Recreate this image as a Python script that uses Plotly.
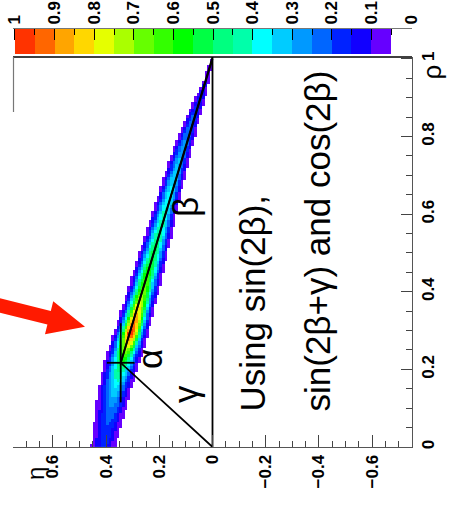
import numpy as np
import plotly.graph_objects as go

# ---------------- data ----------------
# colour bins of the CL value (0.05 wide), index 0 = [0,0.05) ... 19 = [0.95,1]
bin_colors = ["#FFFFFF", "#6600FF", "#1100FF", "#0022FF", "#0066FF", "#0099FF",
              "#00CCFF", "#00FFFF", "#00FFAA", "#00FF80", "#00FF44", "#00FF00",
              "#33FF00", "#66FF00", "#AAFF00", "#E5FF00", "#FFD700", "#FFA500",
              "#FF6600", "#FF3300"]
cbar_tick_vals = [0, 0.1, 0.2, 0.3, 0.4, 0.5, 0.6, 0.7, 0.8, 0.9, 1.0]
cbar_tick_text = ["0", "0.1", "0.2", "0.3", "0.4", "0.5", "0.6", "0.7", "0.8", "0.9", "1"]

# probability band profile (per rho): centre in eta, half width of the 0.05 contour, peak CL
band_rho      = [0.00, 0.05, 0.10, 0.15, 0.20, 0.25, 0.29, 0.33, 0.40, 0.48, 0.58, 0.68, 0.77, 0.86, 0.94, 1.00]
band_center   = [0.410, 0.396, 0.381, 0.367, 0.347, 0.326, 0.308, 0.291, 0.262, 0.230, 0.190, 0.150, 0.112, 0.068, 0.025, 0.002]
band_halfw    = [0.046, 0.051, 0.057, 0.062, 0.066, 0.068, 0.066, 0.063, 0.060, 0.056, 0.048, 0.041, 0.035, 0.025, 0.013, 0.004]
band_peak     = [0.16, 0.19, 0.25, 0.35, 0.47, 0.70, 1.00, 0.90, 0.68, 0.54, 0.43, 0.35, 0.28, 0.20, 0.12, 0.06]

# unitarity triangle apex and its errors
apex_rho, apex_eta = 0.217, 0.345
err_rho, err_eta = 0.102, 0.052

# ---------------- figure geometry (pixels) ----------------
W, H = 459, 506
L, R, T, B = 13, 47, 29, 59
PW, PH = W - L - R, H - T - B


def px(x):
    return (x - L) / PW


def py(y):
    return (H - B - y) / PH


main_top = 57
cbar_top, cbar_bot = 29, 54

# ---------------- likelihood surface ----------------
eta_c = np.arange(-0.045, 0.60, 0.01)
rho_c = np.arange(0.004, 1.0, 0.008)
A = np.interp(rho_c, band_rho, band_peak)
C = np.interp(rho_c, band_rho, band_center)
Wd = np.interp(rho_c, band_rho, band_halfw)
S = Wd / np.sqrt(2 * np.log(A / 0.05))
Z = A[:, None] * np.exp(-0.5 * ((eta_c[None, :] - C[:, None]) / S[:, None]) ** 2)
Z = np.where(Z >= 0.05, Z, np.nan)

cscale = []
for i, col in enumerate(bin_colors):
    cscale.append([i / 20, col])
    cscale.append([(i + 1) / 20, col])

fig = go.Figure()
fig.add_trace(go.Heatmap(x=eta_c, y=rho_c, z=Z, colorscale=cscale, zmin=0, zmax=1,
                         zsmooth=False, showscale=False, hoverinfo="skip"))

# colour bar drawn as its own heatmap
cb_x = [0.025 + 0.05 * i for i in range(1, 20)]
fig.add_trace(go.Heatmap(x=cb_x, y=[0.5], z=[cb_x], colorscale=cscale, zmin=0, zmax=1,
                         zsmooth=False, showscale=False, xaxis="x2", yaxis="y2",
                         hoverinfo="skip"))

# triangle
fig.add_trace(go.Scatter(x=[0, 0, apex_eta, 0], y=[0, 1.005, apex_rho, 0], mode="lines",
                         line=dict(color="black", width=1.8), hoverinfo="skip"))
fig.add_trace(go.Scatter(x=[0, apex_eta], y=[1.0, apex_rho], mode="lines",
                         line=dict(color="black", width=1.8), hoverinfo="skip"))
# apex with errors
fig.add_trace(go.Scatter(x=[apex_eta], y=[apex_rho], mode="markers",
                         marker=dict(size=1, color="black"),
                         error_x=dict(type="data", array=[err_eta], color="black", thickness=1.8, width=0),
                         error_y=dict(type="data", array=[err_rho], color="black", thickness=1.8, width=0),
                         hoverinfo="skip"))

tickfont = dict(family="Liberation Sans", size=17, color="black", weight="bold")
fig.update_layout(
    width=W, height=H, margin=dict(l=L, r=R, t=T, b=B, autoexpand=False),
    paper_bgcolor="white", plot_bgcolor="white", showlegend=False,
    xaxis=dict(range=[0.75, -0.75], domain=[0, 1], anchor="y", tickmode="linear", tick0=0, dtick=0.2,
               ticks="inside", ticklen=12, tickcolor="#444", tickwidth=1, tickangle=-90,
               tickfont=tickfont, showgrid=False, zeroline=False, showline=True,
               linecolor="#555", linewidth=1.2, automargin=False,
               minor=dict(dtick=0.05, tick0=0, ticks="inside", ticklen=6, tickcolor="#444")),
    yaxis=dict(range=[0, 1.005], domain=[0, py(main_top)], anchor="x", side="right",
               tickmode="linear", tick0=0, dtick=0.2, ticks="inside", ticklen=11,
               tickcolor="#444", tickangle=-90, tickfont=tickfont, showgrid=False,
               zeroline=False, showline=True, linecolor="#555", linewidth=1.2, automargin=False,
               minor=dict(dtick=0.05, tick0=0, ticks="inside", ticklen=6, tickcolor="#444")),
    xaxis2=dict(range=[1.005, -0.002], domain=[0, 1], anchor="y2", side="top",
                tickmode="array", tickvals=cbar_tick_vals, ticktext=cbar_tick_text,
                ticks="inside", ticklen=11, tickcolor="black", tickangle=-90, tickfont=tickfont,
                showgrid=False, zeroline=False, showline=True, linecolor="#777", linewidth=1,
                automargin=False,
                minor=dict(tickvals=[0.05 + 0.1 * i for i in range(10)], ticks="inside",
                           ticklen=6, tickcolor="black")),
    yaxis2=dict(range=[0, 1], domain=[py(cbar_bot), py(cbar_top)], anchor="x2", visible=False,
                automargin=False),
)

shapes = [
    dict(type="line", xref="paper", yref="paper", x0=px(13), x1=px(412), y0=py(57), y1=py(57),
         line=dict(color="black", width=1.5)),
    dict(type="line", xref="paper", yref="paper", x0=px(13.5), x1=px(13.5), y0=py(57), y1=py(112),
         line=dict(color="#777", width=1.2)),
]
# red arrow
tail = np.array([-2.0, 305.0])
tip = np.array([85.0, 326.7])
u = (tip - tail) / np.linalg.norm(tip - tail)
n = np.array([-u[1], u[0]])
base = tip - 37 * u
pts = [tail - 7 * n, base - 7 * n, base - 17 * n, tip, base + 17 * n, base + 7 * n, tail + 7 * n]
path = "M " + " L ".join(f"{px(p[0]):.5f},{py(p[1]):.5f}" for p in pts) + " Z"
shapes.append(dict(type="path", xref="paper", yref="paper", path=path,
                   fillcolor="#FF1A00", line=dict(width=0)))
fig.update_layout(shapes=shapes)

big = dict(family="Liberation Sans", size=35, color="black")
ann = [
    dict(text="Using sin(2β),", x=px(252), y=py(414), xanchor="center", yanchor="bottom"),
    dict(text="sin(2β+γ) and cos(2β)", x=px(317), y=py(414), xanchor="center", yanchor="bottom"),
    dict(text="α", x=px(149), y=py(359), xanchor="center", yanchor="middle"),
    dict(text="β", x=px(185), y=py(207), xanchor="center", yanchor="middle"),
    dict(text="γ", x=px(185), y=py(394), xanchor="center", yanchor="middle"),
]
for a in ann:
    fig.add_annotation(xref="paper", yref="paper", showarrow=False, textangle=-90, font=big, **a)
fig.add_annotation(text="ρ", xref="paper", yref="paper", x=px(448), y=py(63), showarrow=False,
                   textangle=-90, font=dict(family="Liberation Sans", size=26, color="black"))
fig.add_annotation(text="η", xref="paper", yref="paper", x=px(20), y=py(482), showarrow=False,
                   textangle=-90, font=dict(family="Liberation Sans", size=24, color="black"))

fig.write_html("out.html", config={"displayModeBar": False},
               post_script="document.body.style.margin='0';document.body.style.overflow='hidden';")
